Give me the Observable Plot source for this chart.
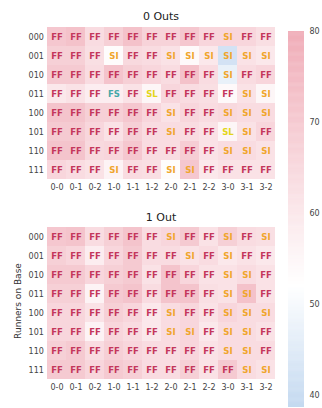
<!DOCTYPE html>
<html>
<head>
<meta charset="utf-8">
<script src="https://cdn.jsdelivr.net/npm/d3@7"></script>
<script src="https://cdn.jsdelivr.net/npm/@observablehq/plot@0.6"></script>
<style>
  html, body { margin: 0; padding: 0; background: #fff; }
  #wrap { position: relative; width: 322px; height: 408px; overflow: hidden; font-family: "DejaVu Sans", sans-serif; }
  #wrap > * { position: absolute; }
  .title { font-size: 11px; color: #222; width: 322px; text-align: center; left: 0; }
  .ylab { font-size: 9px; color: #333; transform: rotate(-90deg); transform-origin: center; white-space: nowrap; }
</style>
</head>
<body>
<div id="wrap"></div>
<script>
const counts = ["0-0","0-1","0-2","1-0","1-1","1-2","2-0","2-1","2-2","3-0","3-1","3-2"];
const runners = ["000","001","010","011","100","101","110","111"];
const panelTitles = ["0 Outs", "1 Out"];
const colorTicks = [40, 50, 60, 70, 80];

const pitches0 = [
  ["FF","FF","FF","FF","FF","FF","FF","FF","FF","SI","FF","FF"],
  ["FF","FF","FF","SI","FF","FF","SI","SI","SI","SI","SI","SI"],
  ["FF","FF","FF","FF","FF","FF","FF","FF","FF","SI","FF","FF"],
  ["FF","FF","FF","FS","FF","SL","FF","FF","FF","FF","SI","SI"],
  ["FF","FF","FF","FF","FF","FF","SI","FF","FF","SI","SI","SI"],
  ["FF","FF","FF","FF","FF","FF","SI","FF","FF","SL","SI","FF"],
  ["FF","FF","FF","FF","FF","FF","FF","FF","FF","SI","SI","SI"],
  ["FF","FF","FF","SI","FF","FF","SI","SI","FF","FF","FF","FF"]
];
const values0 = [
  [71,73,64,68,73,67,67,71,66,66,66,63],
  [68,68,63,53,65,64,62,54,60,42,62,60],
  [70,70,64,72,68,66,64,73,64,47,64,66],
  [60,62,58,58,62,55,66,64,63,54,62,55],
  [72,72,68,68,71,66,62,66,64,65,64,64],
  [70,70,66,62,68,64,64,64,62,55,62,66],
  [72,72,65,66,71,64,64,69,62,64,64,62],
  [66,64,62,56,64,63,53,71,60,62,62,62]
];
const pitches1 = [
  ["FF","FF","FF","FF","FF","FF","SI","FF","FF","SI","FF","SI"],
  ["FF","FF","FF","FF","FF","FF","FF","SI","FF","SI","FF","FF"],
  ["FF","FF","FF","FF","FF","FF","FF","FF","FF","SI","SI","FF"],
  ["FF","FF","FF","FF","FF","FF","FF","FF","FF","SI","SI","FF"],
  ["FF","FF","FF","FF","FF","FF","SI","FF","FF","SI","SI","SI"],
  ["FF","FF","FF","FF","FF","FF","SI","SI","FF","SI","SI","FF"],
  ["FF","FF","FF","FF","FF","FF","FF","FF","FF","SI","SI","FF"],
  ["FF","FF","FF","FF","FF","FF","FF","FF","FF","FF","SI","SI"]
];
const values1 = [
  [71,72,64,68,72,64,66,70,62,68,64,63],
  [68,66,58,66,70,64,64,62,64,60,62,60],
  [70,70,66,68,70,62,72,66,62,62,64,62],
  [68,68,56,70,72,64,72,72,63,62,73,62],
  [66,66,62,68,66,60,64,66,62,66,64,64],
  [66,66,56,66,64,60,64,66,60,64,64,62],
  [68,70,64,68,66,64,64,66,62,64,64,64],
  [70,70,66,70,68,64,64,68,62,70,64,62]
];
const pitchTypes = ["FF","SI","SL","FS"];
const pitchColors = ["#c4375c","#f0a52c","#e3d51a","#45a8a8"];

const colorScale = {
  type: "linear",
  domain: [38.7, 52, 80],
  range: ["#c4d9f0", "#ffffff", "#f0adb8"],
  interpolate: "rgb",
  clamp: true
};

function tidy(pitches, values) {
  const out = [];
  runners.forEach((r, i) => counts.forEach((c, j) => {
    out.push({runners: r, count: c, pitch: pitches[i][j], value: values[i][j]});
  }));
  return out;
}

function heatmap(data, height, marginTop, marginBottom) {
  return Plot.plot({
    width: 322, height,
    marginLeft: 45.4, marginRight: 45.4, marginTop, marginBottom,
    x: {domain: counts, padding: 0, label: null, tickSize: 0, tickPadding: 3},
    y: {domain: runners, padding: 0, label: null, tickSize: 0, tickPadding: 2},
    color: colorScale,
    style: {fontFamily: "DejaVu Sans", fontSize: "8px", color: "#444", background: "transparent"},
    marks: [
      Plot.cell(data, {x: "count", y: "runners", fill: "value", inset: 0}),
      ...pitchTypes.map((t, k) => Plot.text(data.filter(d => d.pitch === t), {
        x: "count", y: "runners", text: "pitch", fill: pitchColors[k],
        fontWeight: "bold", fontSize: 8.5
      }))
    ]
  });
}

const wrap = document.getElementById("wrap");

const t0 = document.createElement("div");
t0.className = "title"; t0.textContent = panelTitles[0];
t0.style.top = "10px";
wrap.appendChild(t0);

const p0 = heatmap(tidy(pitches0, values0), 200, 24, 19);
p0.style.left = "0px"; p0.style.top = "0px";
wrap.appendChild(p0);

const t1 = document.createElement("div");
t1.className = "title"; t1.textContent = panelTitles[1];
t1.style.top = "211px";
wrap.appendChild(t1);

const p1 = heatmap(tidy(pitches1, values1), 208, 25, 27);
p1.style.left = "0px"; p1.style.top = "200px";
wrap.appendChild(p1);

const yl = document.createElement("div");
yl.className = "ylab"; yl.textContent = "Runners on Base";
yl.style.width = "100px"; yl.style.textAlign = "center";
yl.style.left = (18 - 50) + "px"; yl.style.top = (302 - 6) + "px";
wrap.appendChild(yl);

// colorbar
const slices = d3.range(387, 800).map(v => v / 10);
const cb = Plot.plot({
  width: 42, height: 408,
  marginLeft: 8, marginRight: 18, marginTop: 31, marginBottom: 1,
  x: {axis: null, domain: [0, 1]},
  y: {domain: [38.7, 80], axis: "right", ticks: colorTicks, tickSize: 0, tickPadding: 5, label: null, tickFormat: d => String(d)},
  color: colorScale,
  style: {fontFamily: "DejaVu Sans", fontSize: "8px", color: "#444", background: "transparent"},
  marks: [
    Plot.rect(slices, {x1: 0, x2: 1, y1: d => d, y2: d => Math.min(80, d + 0.15), fill: d => d, inset: 0})
  ]
});
cb.style.left = "280px"; cb.style.top = "0px";
wrap.appendChild(cb);
</script>
</body>
</html>
